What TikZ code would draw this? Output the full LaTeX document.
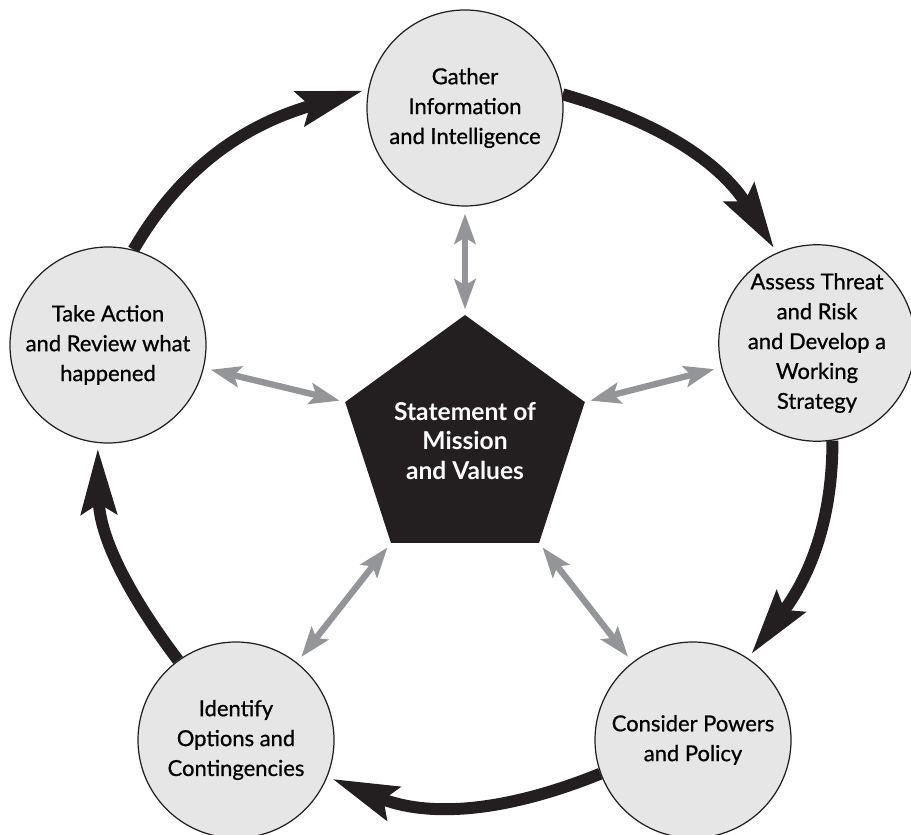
\documentclass[tikz,border=0pt]{standalone}
\usepackage{fontspec}
\setmainfont{Lato}
\newfontfamily\stagefont[FakeBold=0.8]{Lato}
\usetikzlibrary{shapes.geometric,arrows.meta,backgrounds}
\definecolor{stagegray}{HTML}{E6E6E7}
\definecolor{linkgray}{HTML}{939598}
\definecolor{ink}{HTML}{231F20}

\begin{document}
\begin{tikzpicture}[
    stage/.style={
      circle,
      draw=ink,
      line width=0.7pt,
      fill=stagegray,
      minimum size=3.92cm,
      inner sep=0pt,
      align=center,
      font=\stagefont\fontsize{12.5}{17}\selectfont
    },
    core/.style={
      regular polygon,
      regular polygon sides=5,
      fill=ink,
      text=white,
      minimum size=5.04cm,
      inner sep=0pt,
      align=center,
      font=\fontsize{14}{17}\selectfont\bfseries
    },
    ringarrow/.style={
      -{Stealth[length=1.3cm,width=0.7cm,inset=0.2cm]},
      draw=ink,
      line width=6.8pt,
      shorten >=3pt
    },
    link/.style={
      {Stealth[length=0.6cm,width=0.42cm,inset=0.12cm]}-{Stealth[length=0.6cm,width=0.42cm,inset=0.12cm]},
      draw=linkgray,
      line width=3.6pt,
      shorten <=3pt,
      shorten >=4pt
    }
  ]
  \useasboundingbox (0,0) rectangle (18.22,16.68);

  \node[core] (mission) at (9.30,7.86) {Statement of\\Mission\\and Values};

  \node[stage] (gather) at (9.30,14.52) {Gather\\Information\\and Intelligence};
  \node[stage] (assess) at (16.34,9.82) {Assess Threat\\and Risk\\and Develop a\\Working\\Strategy};
  \node[stage] (consider) at (13.86,1.88) {Consider Powers\\and Policy};
  \node[stage] (identify) at (4.72,1.88) {Identify\\Options and\\Contingencies};
  \node[stage] (action) at (2.16,9.78) {Take Action\\and Review what\\happened};

  \begin{scope}[on background layer]
    % the cycle round the outside
    \draw[ringarrow] (action.75) to[out=60,in=196] (gather.169);
    \draw[ringarrow] (gather.8) to[out=-16,in=122] (assess.114);
    \draw[ringarrow] (assess.-81) to[out=-90,in=53] (consider.56);
    \draw[ringarrow] (consider.200) to[out=202,in=-22] (identify.-22);
    \draw[ringarrow] (identify.126) to[out=127,in=-89] (action.264);
  \end{scope}

  \foreach \c/\n in {1/gather,2/action,3/identify,4/consider,5/assess}
    \draw[link] (mission.corner \c) -- (\n);
\end{tikzpicture}
\end{document}
